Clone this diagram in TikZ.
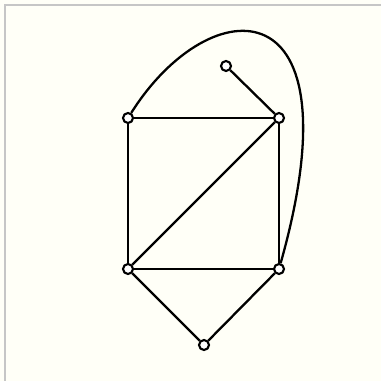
\documentclass[tikz,border=0pt]{standalone}
\begin{document}
\begin{tikzpicture}[x=0.02cm, y=-0.02cm,
  vnode/.style={circle, draw, line width=1.2pt, fill=white, inner sep=0pt, minimum size=0.2cm},
  edge/.style={line width=1.3pt}]
\definecolor{paper}{HTML}{FFFFF7}
\useasboundingbox (0,0) rectangle (381,381);
\fill[paper] (0,0) rectangle (381,381);
\draw[gray!45, line width=1.2pt] (5,381) -- (5,5) -- (381,5);
\node[vnode] (a) at (128,118) {};
\node[vnode] (b) at (279,118) {};
\node[vnode] (c) at (128,269) {};
\node[vnode] (d) at (279,269) {};
\node[vnode] (e) at (204,345) {};
\node[vnode] (f) at (226,66) {};
\draw[edge] (a)--(b);
\draw[edge] (a)--(c);
\draw[edge] (b)--(d);
\draw[edge] (c)--(d);
\draw[edge] (c)--(b);
\draw[edge] (c)--(e);
\draw[edge] (d)--(e);
\draw[edge] (b)--(f);
\draw[edge] (a) .. controls (210,-12) and (360,-18) .. (d);
\end{tikzpicture}
\end{document}
